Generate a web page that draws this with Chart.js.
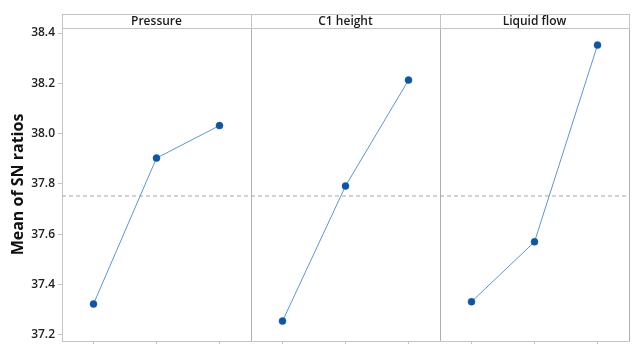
<!DOCTYPE html>
<html>
<head>
<meta charset="utf-8">
<script src="https://cdn.jsdelivr.net/npm/chart.js@4.4.1/dist/chart.umd.min.js"></script>
<style>
  html, body { margin: 0; padding: 0; background: #ffffff; }
  canvas { display: block; }
</style>
</head>
<body>
<canvas id="chart" width="633" height="345"></canvas>
<script>
// Main effects plot for SN ratios: one panel per factor, three levels each
const factors = ['Pressure', 'C1 height', 'Liquid flow'];
const pressureSN = [37.323, 37.903, 38.032];
const c1HeightSN = [37.255, 37.792, 38.213];
const liquidFlowSN = [37.332, 37.570, 38.352];
const yTicks = [37.2, 37.4, 37.6, 37.8, 38.0, 38.2, 38.4];
const yTitle = 'Mean of SN ratios';

const seriesByFactor = [pressureSN, c1HeightSN, liquidFlowSN];
const levelsPerFactor = 3;
const allValues = seriesByFactor.flat();
const grandMean = allValues.reduce((a, b) => a + b, 0) / allValues.length;
const xMax = factors.length * levelsPerFactor;

const FRAME = '#c4c4c4';
const SEP = '#b0b0b0';
const LINE = '#5d95d3';
const DOT = '#0b56a6';

// each factor occupies a band of three x units; level i sits at band + i + 0.5
const datasets = seriesByFactor.map((vals, f) => ({
  label: factors[f],
  data: vals.map((v, i) => ({ x: f * levelsPerFactor + i + 0.5, y: v })),
  borderColor: LINE,
  borderWidth: 1,
  pointRadius: 3.5,
  pointHoverRadius: 3.5,
  pointBackgroundColor: DOT,
  pointBorderColor: DOT,
  pointBorderWidth: 0.5,
  order: 1
}));

datasets.push({
  label: 'Mean',
  data: [{ x: 0, y: grandMean }, { x: xMax, y: grandMean }],
  borderColor: '#a6a6a6',
  borderWidth: 1,
  borderDash: [4, 3],
  pointRadius: 0,
  order: 2
});

// factor name strip above the panels
const panelStrip = {
  id: 'panelStrip',
  afterDraw(chart) {
    const { ctx, chartArea, scales } = chart;
    const top = 14, bottom = chartArea.top;
    ctx.save();
    ctx.strokeStyle = FRAME;
    ctx.lineWidth = 1;
    ctx.beginPath();
    ctx.moveTo(chartArea.left, top + 0.5);
    ctx.lineTo(chartArea.right + 1, top + 0.5);
    ctx.moveTo(chartArea.left, bottom + 0.5);
    ctx.lineTo(chartArea.right + 1, bottom + 0.5);
    for (let f = 0; f <= factors.length; f++) {
      const px = Math.round(scales.x.getPixelForValue(f * levelsPerFactor)) + 0.5;
      ctx.moveTo(px, top);
      ctx.lineTo(px, bottom);
    }
    ctx.stroke();
    ctx.fillStyle = '#1a1a1a';
    ctx.font = '600 12px "Open Sans"';
    ctx.textAlign = 'center';
    ctx.textBaseline = 'middle';
    factors.forEach((name, f) => {
      const cx = scales.x.getPixelForValue(f * levelsPerFactor + levelsPerFactor / 2);
      ctx.fillText(name, cx, (top + bottom) / 2 + 0.5);
    });
    ctx.restore();
  }
};

new Chart(document.getElementById('chart'), {
  type: 'line',
  data: { datasets },
  plugins: [panelStrip],
  options: {
    responsive: false,
    animation: false,
    devicePixelRatio: 1,
    layout: { padding: { top: 28, right: 1, bottom: 0, left: 0 } },
    plugins: { legend: { display: false }, tooltip: { enabled: false } },
    scales: {
      x: {
        type: 'linear',
        min: 0,
        max: xMax,
        afterBuildTicks(scale) {
          const t = [];
          for (let f = 0; f < factors.length; f++) {
            t.push({ value: f * levelsPerFactor });
            for (let i = 0; i < levelsPerFactor; i++) t.push({ value: f * levelsPerFactor + i + 0.5 });
          }
          t.push({ value: xMax });
          scale.ticks = t;
        },
        afterFit(scale) {
          scale.height = 3;
          scale.paddingLeft = 0; scale.paddingRight = 0;
        },
        ticks: { display: false },
        grid: {
          drawOnChartArea: true,
          drawTicks: true,
          tickLength: 3,
          lineWidth: 1,
          color: (c) => {
            const v = c.tick ? c.tick.value : 0;
            return (v > 0 && v % levelsPerFactor === 0) ? SEP : 'rgba(0,0,0,0)';
          },
          tickColor: (c) => {
            const v = c.tick ? c.tick.value : 0;
            return (v % 1 !== 0) ? FRAME : 'rgba(0,0,0,0)';
          }
        },
        border: { display: true, color: FRAME }
      },
      y: {
        type: 'linear',
        min: 37.176,
        max: 38.42,
        afterBuildTicks(scale) { scale.ticks = yTicks.map(v => ({ value: v })); },
        afterFit(scale) {
          scale.width = 62;
          scale.paddingTop = 0; scale.paddingBottom = 0;
        },
        ticks: {
          padding: 3,
          color: '#222222',
          font: { family: 'Open Sans', size: 12, weight: '600' },
          callback: (v) => Number(v).toFixed(1)
        },
        grid: { drawOnChartArea: false, drawTicks: true, tickLength: 4, tickColor: FRAME },
        border: { display: true, color: FRAME },
        title: {
          display: true,
          text: yTitle,
          color: '#111111',
          font: { family: 'Open Sans', size: 16, weight: 'bold' },
          padding: { top: 9, bottom: 0 }
        }
      }
    }
  }
});
</script>
</body>
</html>
